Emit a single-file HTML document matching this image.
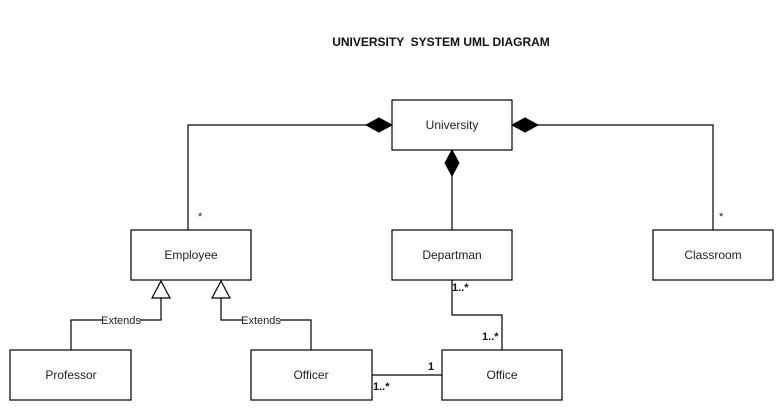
<!DOCTYPE html>
<html><head><style>
html,body{margin:0;padding:0;background:#fff;}
svg{display:block;font-family:"Liberation Sans",Arial,sans-serif;}
</style></head><body>
<svg width="781" height="411" viewBox="0 0 781 411">
<rect width="781" height="411" fill="#fff"/>
<text x="441" y="46" font-size="12" font-weight="bold" text-anchor="middle" fill="#111">UNIVERSITY &#160;SYSTEM UML DIAGRAM</text>
<g fill="#fff" stroke="#000" stroke-width="1.2">
<rect x="392" y="100" width="120" height="50"/>
<rect x="131" y="230" width="120" height="50"/>
<rect x="392" y="230" width="120" height="50"/>
<rect x="653" y="230" width="120" height="50"/>
<rect x="10" y="350" width="121" height="50"/>
<rect x="251" y="350" width="121" height="50"/>
<rect x="442" y="350" width="120" height="50"/>
</g>
<g fill="none" stroke="#000" stroke-width="1.2">
<polyline points="366,125 188,125 188,230"/>
<polyline points="538,125 713,125 713,230"/>
<line x1="452" y1="176" x2="452" y2="230"/>
<polyline points="161,298 161,320 71,320 71,350"/>
<polyline points="221,298 221,320 311,320 311,350"/>
<polyline points="452,280 452,315 502,315 502,350"/>
<line x1="372" y1="375" x2="442" y2="375"/>
</g>
<g fill="#000" stroke="#000">
<polygon points="392,125 379,118 366,125 379,132"/>
<polygon points="512,125 525,118 538,125 525,132"/>
<polygon points="452,150 459,163 452,176 445,163"/>
</g>
<g fill="#fff" stroke="#000" stroke-width="1.2">
<polygon points="161,281 152,298 170,298"/>
<polygon points="221,281 212,298 230,298"/>
</g>
<g font-size="12" fill="#222" text-anchor="middle">
<text x="452" y="129">University</text>
<text x="191" y="259">Employee</text>
<text x="452" y="259">Departman</text>
<text x="713" y="259">Classroom</text>
<text x="71" y="379">Professor</text>
<text x="311" y="379">Officer</text>
<text x="502" y="379">Office</text>
</g>
<rect x="102" y="314" width="38" height="12" fill="#fff"/>
<rect x="242" y="314" width="38" height="12" fill="#fff"/>
<g font-size="11" fill="#222" text-anchor="middle">
<text x="121" y="324">Extends</text>
<text x="261" y="324">Extends</text>
</g>
<g font-size="11" fill="#222">
<text x="198" y="220">*</text>
<text x="719" y="220">*</text>
</g>
<g font-size="11" font-weight="bold" fill="#111">
<text x="452" y="291">1..*</text>
<text x="482" y="340">1..*</text>
<text x="428" y="370">1</text>
<text x="373" y="390">1..*</text>
</g>
</svg>
</body></html>
